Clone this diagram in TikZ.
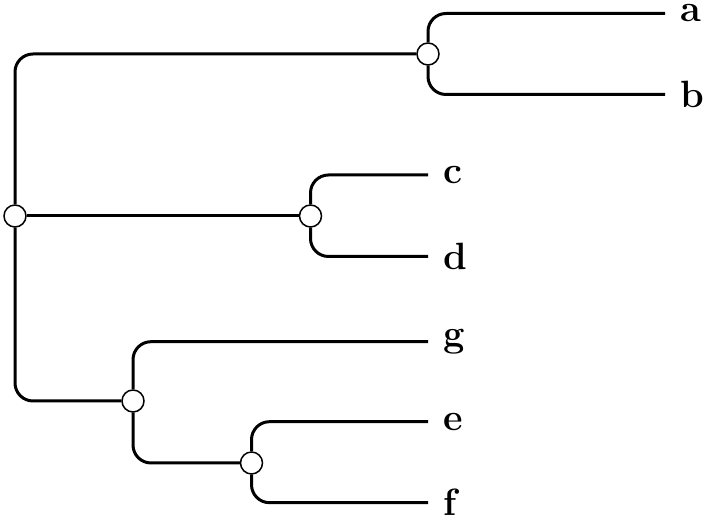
\documentclass[tikz,border=0pt]{standalone}
\usepackage{tikz}
\usetikzlibrary{positioning}
\begin{document}
\begin{tikzpicture}
[x=0.5pt,y=-0.5pt,
joint/.style={circle,draw,fill=white,line width=0.75pt,minimum size=11pt,inner sep=0pt},
leaf/.style={anchor=west,inner xsep=7.5pt,inner ysep=1pt,font=\fontsize{19}{23}\selectfont\bfseries},
branch/.style={line width=1.5pt,rounded corners=9pt}]
\useasboundingbox (0,0) rectangle (709,522);
% internal nodes
\node [joint] (R) at (15,216) {};
\node [joint] (AB) at (428,54) {};
\node [joint] (CD) at (310.5,216) {};
\node [joint] (GEF) at (133,401) {};
\node [joint] (EF) at (251.5,463) {};
% leaves
\node [leaf] (a) at (665,13.5) {a};
\node [leaf] (b) at (665,94.5) {b};
\node [leaf] (c) at (428,175) {c};
\node [leaf] (d) at (428,256.5) {d};
\node [leaf] (g) at (428,341.7) {g};
\node [leaf] (e) at (428,421.7) {e};
\node [leaf] (f) at (428,502.7) {f};
% branches
\draw [branch] (R) |- (AB);
\draw [branch] (R) -- (CD);
\draw [branch] (R) |- (GEF);
\draw [branch] (AB) |- (a.west);
\draw [branch] (AB) |- (b.west);
\draw [branch] (CD) |- (c.west);
\draw [branch] (CD) |- (d.west);
\draw [branch] (GEF) |- (g.west);
\draw [branch] (GEF) |- (EF);
\draw [branch] (EF) |- (e.west);
\draw [branch] (EF) |- (f.west);
\end{tikzpicture}
\end{document}
